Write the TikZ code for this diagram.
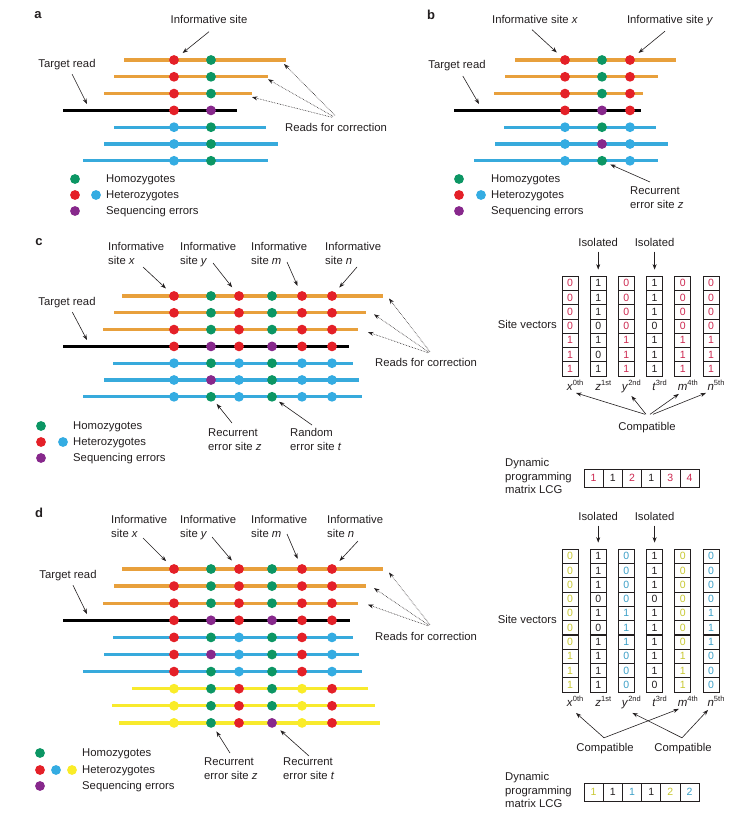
\documentclass[tikz,border=0pt]{standalone}
\usepackage{fontspec}
\setmainfont{Liberation Sans}
\usetikzlibrary{arrows.meta}
\definecolor{lOr}{RGB}{232,160,60}
\definecolor{lBl}{RGB}{55,170,220}
\definecolor{lYe}{RGB}{248,234,45}
\definecolor{dR}{RGB}{228,32,40}
\definecolor{dG}{RGB}{12,150,100}
\definecolor{dB}{RGB}{52,172,226}
\definecolor{dP}{RGB}{135,40,140}
\definecolor{dY}{RGB}{250,236,40}
\definecolor{txt}{RGB}{35,31,32}
\definecolor{nR}{RGB}{205,40,80}
\definecolor{nY}{RGB}{200,200,50}
\definecolor{nB}{RGB}{60,160,200}
\newcommand\rdl[5]{\coordinate (#1-s) at (#4,#3);\coordinate (#1-e) at (#5,#3);\draw[readln,draw=#2] (#1-s) -- (#1-e);}
\newcommand\rdd[3]{\foreach \xx/\cc [count=\ii] in {#3} {\node[dot,fill=\cc] (#1-\ii) at (\xx,#2) {};}}
\newcommand\rdsix[8]{\rdd{#1}{#2}{174/#3,211/#4,239/#5,272/#6,302/#7,332/#8}}
\newcommand\svcol[5]{\foreach \dd [count=\rr] in {#5} {\node[cell,text=#4] (#1-\rr) at (#2,{#3+\rr*14.3-7.15}) {\dd};}}
\newcommand\svl[2]{\textit{#1}\raisebox{4.5pt}{\fontsize{7.5}{8}\selectfont #2}}
\begin{document}
\begin{tikzpicture}[x=1pt,y=-1pt,
 lbl/.style={font=\fontsize{11.3}{14}\selectfont,text=txt,inner sep=0pt,text height=8.5pt,text depth=2.5pt},
 ml/.style={font=\fontsize{11.3}{14}\selectfont,text=txt,inner sep=0pt,align=left,anchor=north west},
 plab/.style={font=\fontsize{13}{15}\selectfont\bfseries,text=txt,inner sep=0pt},
 readln/.style={line width=3.3pt},
 dot/.style={circle,inner sep=0pt,minimum size=9.8pt,draw=none},
 arr/.style={draw=txt,line width=0.6pt,-{Stealth[length=5.5pt,width=4pt]}},
 darr/.style={arr,densely dotted},
 cell/.style={draw=txt,line width=0.8pt,minimum width=16pt,minimum height=14.3pt,inner sep=0pt,font=\fontsize{10.5}{12}\selectfont},
 lcgc/.style={draw=txt,line width=0.8pt,minimum width=19.2pt,minimum height=18pt,inner sep=0pt,font=\fontsize{10.5}{12}\selectfont},
 svlab/.style={font=\fontsize{11.5}{13}\selectfont,text=txt,inner sep=0pt,text height=9pt,text depth=2.5pt}
]
\useasboundingbox (0,0) rectangle (750,816);
\fill[white] (0,0) rectangle (750,816);

% ================= panel a =================
\node[plab] (pa) at (38,15) {a};
\rdl{a1}{lOr}{60}{124}{286}\rdd{a1}{60}{174/dR,211/dG}
\rdl{a2}{lOr}{76.8}{114}{268}\rdd{a2}{76.8}{174/dR,211/dG}
\rdl{a3}{lOr}{93.6}{104}{252}\rdd{a3}{93.6}{174/dR,211/dG}
\rdl{a4}{black}{110.4}{63}{237}\rdd{a4}{110.4}{174/dR,211/dP}
\rdl{a5}{lBl}{127.2}{114}{266}\rdd{a5}{127.2}{174/dB,211/dG}
\rdl{a6}{lBl}{144}{104}{278}\rdd{a6}{144}{174/dB,211/dG}
\rdl{a7}{lBl}{160.8}{83}{268}\rdd{a7}{160.8}{174/dB,211/dG}
\node[lbl] (ainf) at (209,21) {Informative site};
\draw[arr,shorten >=6pt] ([shift={(0,5)}]ainf.south) -- (a1-1);
\node[lbl] (atr) at (67,64) {Target read};
\coordinate (atr-t) at (87,104);
\draw[arr,shorten <=5pt] (atr) -- (atr-t);
\node[lbl,anchor=west] (arc) at (285,128) {Reads for correction};
\draw[darr] ([shift={(50,-7)}]arc.north west) -- ([shift={(-2,4)}]a1-e);
\draw[darr] ([shift={(48,-6)}]arc.north west) -- ([shift={(0,2.5)}]a2-e);
\draw[darr] ([shift={(47,-5)}]arc.north west) -- ([shift={(0,3.5)}]a3-e);
\node[dot,fill=dG] (alg) at (75,179) {};
\node[dot,fill=dR] (alr) at (75,195) {};
\node[dot,fill=dB] (alb) at (96,195) {};
\node[dot,fill=dP] (alp) at (75,211) {};
\node[lbl,anchor=west] (alt1) at (106,179) {Homozygotes};
\node[lbl,anchor=west] (alt2) at (106,195) {Heterozygotes};
\node[lbl,anchor=west] (alt3) at (106,211) {Sequencing errors};

% ================= panel b =================
\node[plab] (pb) at (431,15) {b};
\rdl{b1}{lOr}{60}{515}{676}\rdd{b1}{60}{565/dR,602/dG,630/dR}
\rdl{b2}{lOr}{76.8}{505}{658}\rdd{b2}{76.8}{565/dR,602/dG,630/dR}
\rdl{b3}{lOr}{93.6}{494}{643}\rdd{b3}{93.6}{565/dR,602/dG,630/dR}
\rdl{b4}{black}{110.4}{454}{641}\rdd{b4}{110.4}{565/dR,602/dP,630/dR}
\rdl{b5}{lBl}{127.2}{504}{656}\rdd{b5}{127.2}{565/dB,602/dG,630/dB}
\rdl{b6}{lBl}{144}{495}{668}\rdd{b6}{144}{565/dB,602/dP,630/dB}
\rdl{b7}{lBl}{160.8}{474}{658}\rdd{b7}{160.8}{565/dB,602/dG,630/dB}
\node[lbl] (bix) at (535,21) {Informative site \textit{x}};
\node[lbl] (biy) at (670,21) {Informative site \textit{y}};
\draw[arr,shorten >=6pt] ([shift={(-3,3)}]bix.south) -- (b1-1);
\draw[arr,shorten >=6pt] ([shift={(-5,4.5)}]biy.south) -- (b1-3);
\node[lbl] (btr) at (457,66) {Target read};
\coordinate (btr-t) at (479,104);
\draw[arr,shorten <=5pt] (btr) -- (btr-t);
\node[ml] (brz) at (630,186.3) {Recurrent\\error site \textit{z}};
\draw[arr,shorten >=4pt] ([shift={(20,-4.3)}]brz.north west) -- (b7-2);
\node[dot,fill=dG] (blg) at (459,179) {};
\node[dot,fill=dR] (blr) at (459,195) {};
\node[dot,fill=dB] (blb) at (481,195) {};
\node[dot,fill=dP] (blp) at (459,211) {};
\node[lbl,anchor=west] (blt1) at (491,179) {Homozygotes};
\node[lbl,anchor=west] (blt2) at (491,195) {Heterozygotes};
\node[lbl,anchor=west] (blt3) at (491,211) {Sequencing errors};

% ================= panel c =================
\node[plab] (pc) at (39,242) {c};
\rdl{c1}{lOr}{296}{122}{383}\rdsix{c1}{296}{dR}{dG}{dR}{dG}{dR}{dR}
\rdl{c2}{lOr}{312.8}{114}{366}\rdsix{c2}{312.8}{dR}{dG}{dR}{dG}{dR}{dR}
\rdl{c3}{lOr}{329.6}{103}{358}\rdsix{c3}{329.6}{dR}{dG}{dR}{dG}{dR}{dR}
\rdl{c4}{black}{346.4}{63}{349}\rdsix{c4}{346.4}{dR}{dP}{dR}{dP}{dR}{dR}
\rdl{c5}{lBl}{363.2}{113}{353}\rdsix{c5}{363.2}{dB}{dG}{dB}{dG}{dB}{dB}
\rdl{c6}{lBl}{380}{104}{359}\rdsix{c6}{380}{dB}{dP}{dB}{dG}{dB}{dB}
\rdl{c7}{lBl}{396.8}{83}{362}\rdsix{c7}{396.8}{dB}{dG}{dB}{dG}{dB}{dB}
\node[ml] (cix) at (108,242.3) {Informative\\site \textit{x}};
\node[ml] (ciy) at (180,242.3) {Informative\\site \textit{y}};
\node[ml] (cim) at (251,242.3) {Informative\\site \textit{m}};
\node[ml] (cin) at (325,242.3) {Informative\\site \textit{n}};
\draw[arr,shorten >=6pt] ([shift={(35,24.7)}]cix.north west) -- (c1-1);
\draw[arr,shorten >=6pt] ([shift={(33,20.7)}]ciy.north west) -- (c1-3);
\draw[arr,shorten >=6pt] ([shift={(36,19.7)}]cim.north west) -- (c1-5);
\draw[arr,shorten >=6pt] ([shift={(32,24.7)}]cin.north west) -- (c1-6);
\node[lbl] (ctr) at (67,302) {Target read};
\coordinate (ctr-t) at (87,340);
\draw[arr,shorten <=5pt] (ctr) -- (ctr-t);
\node[ml] (crz) at (208,428.3) {Recurrent\\error site \textit{z}};
\draw[arr,shorten >=4pt] ([shift={(24,-5.3)}]crz.north west) -- (c7-2);
\node[ml] (crt) at (290,428.3) {Random\\error site \textit{t}};
\draw[arr,shorten >=3.5pt] ([shift={(22,-3.3)}]crt.north west) -- (c7-4);
\node[lbl,anchor=west] (crc) at (375,363) {Reads for correction};
\draw[darr] ([shift={(55,-5.5)}]crc.north west) -- ([shift={(6,2.5)}]c1-e);
\draw[darr] ([shift={(54,-5)}]crc.north west) -- ([shift={(8,1.5)}]c2-e);
\draw[darr] ([shift={(53,-4.5)}]crc.north west) -- ([shift={(10,2.5)}]c3-e);
\node[dot,fill=dG] (clg) at (41,426) {};
\node[dot,fill=dR] (clr) at (41,442) {};
\node[dot,fill=dB] (clb) at (63,442) {};
\node[dot,fill=dP] (clp) at (41,458) {};
\node[lbl,anchor=west] (clt1) at (73,426) {Homozygotes};
\node[lbl,anchor=west] (clt2) at (73,442) {Heterozygotes};
\node[lbl,anchor=west] (clt3) at (73,458) {Sequencing errors};

% site vectors c
\svcol{csx}{570}{276}{nR}{0,0,0,0,1,1,1}
\svcol{csz}{598.2}{276}{txt}{1,1,1,0,1,0,1}
\svcol{csy}{626.4}{276}{nR}{0,0,0,0,1,1,1}
\svcol{cst}{654.6}{276}{txt}{1,1,1,0,1,1,1}
\svcol{csm}{682.8}{276}{nR}{0,0,0,0,1,1,1}
\svcol{csn}{711}{276}{nR}{0,0,0,0,1,1,1}
\node[lbl] (ciso1) at (598.2,243) {Isolated};
\node[lbl] (ciso2) at (654.6,243) {Isolated};
\draw[arr,shorten <=3pt,shorten >=6pt] (ciso1.south) -- (csz-1.north);
\draw[arr,shorten <=3pt,shorten >=6pt] (ciso2.south) -- (cst-1.north);
\node[lbl,anchor=east] (csv) at (557,325) {Site vectors};
\node[svlab] (cvx) at (575,387) {\svl{x}{0th}};
\node[svlab] (cvz) at (603.2,387) {\svl{z}{1st}};
\node[svlab] (cvy) at (631.4,387) {\svl{y}{2nd}};
\node[svlab] (cvt) at (659.6,387) {\svl{t}{3rd}};
\node[svlab] (cvm) at (687.8,387) {\svl{m}{4th}};
\node[svlab] (cvn) at (716,387) {\svl{n}{5th}};
\node[lbl] (ccmp) at (647,427) {Compatible};
\draw[arr] ([shift={(-2,-7)}]ccmp.north) -- ([shift={(1,0)}]cvx.south);
\draw[arr] ([shift={(-1,-7)}]ccmp.north) -- ([shift={(0,3)}]cvy.south);
\draw[arr] ([shift={(3,-7)}]ccmp.north) -- ([shift={(-9,1)}]cvm.south);
\draw[arr] ([shift={(6,-7)}]ccmp.north) -- ([shift={(-10,0)}]cvn.south);
\node[ml,font=\fontsize{11.3}{13.5}\selectfont] (clcg) at (505,458.3) {Dynamic\\programming\\matrix LCG};
\foreach \v/\c [count=\i] in {1/nR,1/txt,2/nR,1/txt,3/nR,4/nR}
  {\node[lcgc,text=\c] (clc-\i) at ({574.4+\i*19.2},478) {\v};}

% ================= panel d =================
\node[plab] (pd) at (39,513) {d};
\rdl{d1}{lOr}{569}{122}{383}\rdsix{d1}{569}{dR}{dG}{dR}{dG}{dR}{dR}
\rdl{d2}{lOr}{586.1}{114}{366}\rdsix{d2}{586.1}{dR}{dG}{dR}{dG}{dR}{dR}
\rdl{d3}{lOr}{603.2}{103}{358}\rdsix{d3}{603.2}{dR}{dG}{dR}{dG}{dR}{dR}
\rdl{d4}{black}{620.3}{63}{350}\rdsix{d4}{620.3}{dR}{dP}{dR}{dP}{dR}{dR}
\rdl{d5}{lBl}{637.4}{113}{353}\rdsix{d5}{637.4}{dR}{dG}{dB}{dG}{dR}{dB}
\rdl{d6}{lBl}{654.5}{104}{359}\rdsix{d6}{654.5}{dR}{dP}{dB}{dG}{dR}{dB}
\rdl{d7}{lBl}{671.6}{83}{362}\rdsix{d7}{671.6}{dR}{dG}{dB}{dG}{dR}{dB}
\rdl{d8}{lYe}{688.7}{132}{368}\rdsix{d8}{688.7}{dY}{dG}{dR}{dG}{dY}{dR}
\rdl{d9}{lYe}{705.8}{112}{375}\rdsix{d9}{705.8}{dY}{dG}{dR}{dG}{dY}{dR}
\rdl{d10}{lYe}{722.9}{119}{380}\rdsix{d10}{722.9}{dY}{dG}{dR}{dP}{dY}{dR}
\node[ml] (dix) at (111,515.3) {Informative\\site \textit{x}};
\node[ml] (diy) at (180,515.3) {Informative\\site \textit{y}};
\node[ml] (dim) at (251,515.3) {Informative\\site \textit{m}};
\node[ml] (din) at (327,515.3) {Informative\\site \textit{n}};
\draw[arr,shorten >=6pt] ([shift={(32,22.7)}]dix.north west) -- (d1-1);
\draw[arr,shorten >=6pt] ([shift={(32,21.7)}]diy.north west) -- (d1-3);
\draw[arr,shorten >=6pt] ([shift={(36,18.7)}]dim.north west) -- (d1-5);
\draw[arr,shorten >=6pt] ([shift={(31,25.7)}]din.north west) -- (d1-6);
\node[lbl] (dtr) at (68,575) {Target read};
\coordinate (dtr-t) at (87,614);
\draw[arr,shorten <=5pt] (dtr) -- (dtr-t);
\node[ml] (drz) at (204,757.3) {Recurrent\\error site \textit{z}};
\draw[arr,shorten >=5pt] ([shift={(26,-4.3)}]drz.north west) -- (d10-2);
\node[ml] (drt) at (283,757.3) {Recurrent\\error site \textit{t}};
\draw[arr,shorten >=6pt] ([shift={(26,-1.3)}]drt.north west) -- (d10-4);
\node[lbl,anchor=west] (drc) at (375,637) {Reads for correction};
\draw[darr] ([shift={(55,-6.5)}]drc.north west) -- ([shift={(6,3.5)}]d1-e);
\draw[darr] ([shift={(54,-6)}]drc.north west) -- ([shift={(8,2)}]d2-e);
\draw[darr] ([shift={(53,-5.5)}]drc.north west) -- ([shift={(10,1.5)}]d3-e);
\node[dot,fill=dG] (dlg) at (40,753) {};
\node[dot,fill=dR] (dlr) at (40,770) {};
\node[dot,fill=dB] (dlb) at (56,770) {};
\node[dot,fill=dY] (dly) at (72,770) {};
\node[dot,fill=dP] (dlp) at (40,786) {};
\node[lbl,anchor=west] (dlt1) at (82,753) {Homozygotes};
\node[lbl,anchor=west] (dlt2) at (82,770) {Heterozygotes};
\node[lbl,anchor=west] (dlt3) at (82,786) {Sequencing errors};

% site vectors d
\svcol{dsx}{570}{549}{nY}{0,0,0,0,0,0,0,1,1,1}
\svcol{dsz}{598.2}{549}{txt}{1,1,1,0,1,0,1,1,1,1}
\svcol{dsy}{626.4}{549}{nB}{0,0,0,0,1,1,1,0,0,0}
\svcol{dst}{654.6}{549}{txt}{1,1,1,0,1,1,1,1,1,0}
\svcol{dsm}{682.8}{549}{nY}{0,0,0,0,0,0,0,1,1,1}
\svcol{dsn}{711}{549}{nB}{0,0,0,0,1,1,1,0,0,0}
\foreach \n in {dsx,dsz,dsy,dst,dsm,dsn}
  {\draw[line width=2pt,draw=txt] (\n-6.south west) -- (\n-6.south east);}
\node[lbl] (diso1) at (598.2,517) {Isolated};
\node[lbl] (diso2) at (654.6,517) {Isolated};
\draw[arr,shorten <=3pt,shorten >=6pt] (diso1.south) -- (dsz-1.north);
\draw[arr,shorten <=3pt,shorten >=6pt] (diso2.south) -- (dst-1.north);
\node[lbl,anchor=east] (dsv) at (557,620) {Site vectors};
\node[svlab] (dvx) at (575,703) {\svl{x}{0th}};
\node[svlab] (dvz) at (603.2,703) {\svl{z}{1st}};
\node[svlab] (dvy) at (631.4,703) {\svl{y}{2nd}};
\node[svlab] (dvt) at (659.6,703) {\svl{t}{3rd}};
\node[svlab] (dvm) at (687.8,703) {\svl{m}{4th}};
\node[svlab] (dvn) at (716,703) {\svl{n}{5th}};
\node[lbl] (dcl) at (605,748) {Compatible};
\node[lbl] (dcr) at (683,748) {Compatible};
\draw[arr] ([shift={(-1,-4.5)}]dcl.north) -- ([shift={(1,4)}]dvx.south);
\draw[arr] ([shift={(-1,-4.5)}]dcl.north) -- ([shift={(-9,0)}]dvm.south);
\draw[arr] ([shift={(-1,-4.5)}]dcr.north) -- ([shift={(1,4)}]dvy.south);
\draw[arr] ([shift={(-1,-4.5)}]dcr.north) -- ([shift={(-8,1)}]dvn.south);
\node[ml,font=\fontsize{11.3}{13.5}\selectfont] (dlcg) at (505,772.3) {Dynamic\\programming\\matrix LCG};
\foreach \v/\c [count=\i] in {1/nY,1/txt,1/nB,1/txt,2/nY,2/nB}
  {\node[lcgc,text=\c] (dlc-\i) at ({574.4+\i*19.2},792) {\v};}
\end{tikzpicture}
\end{document}
